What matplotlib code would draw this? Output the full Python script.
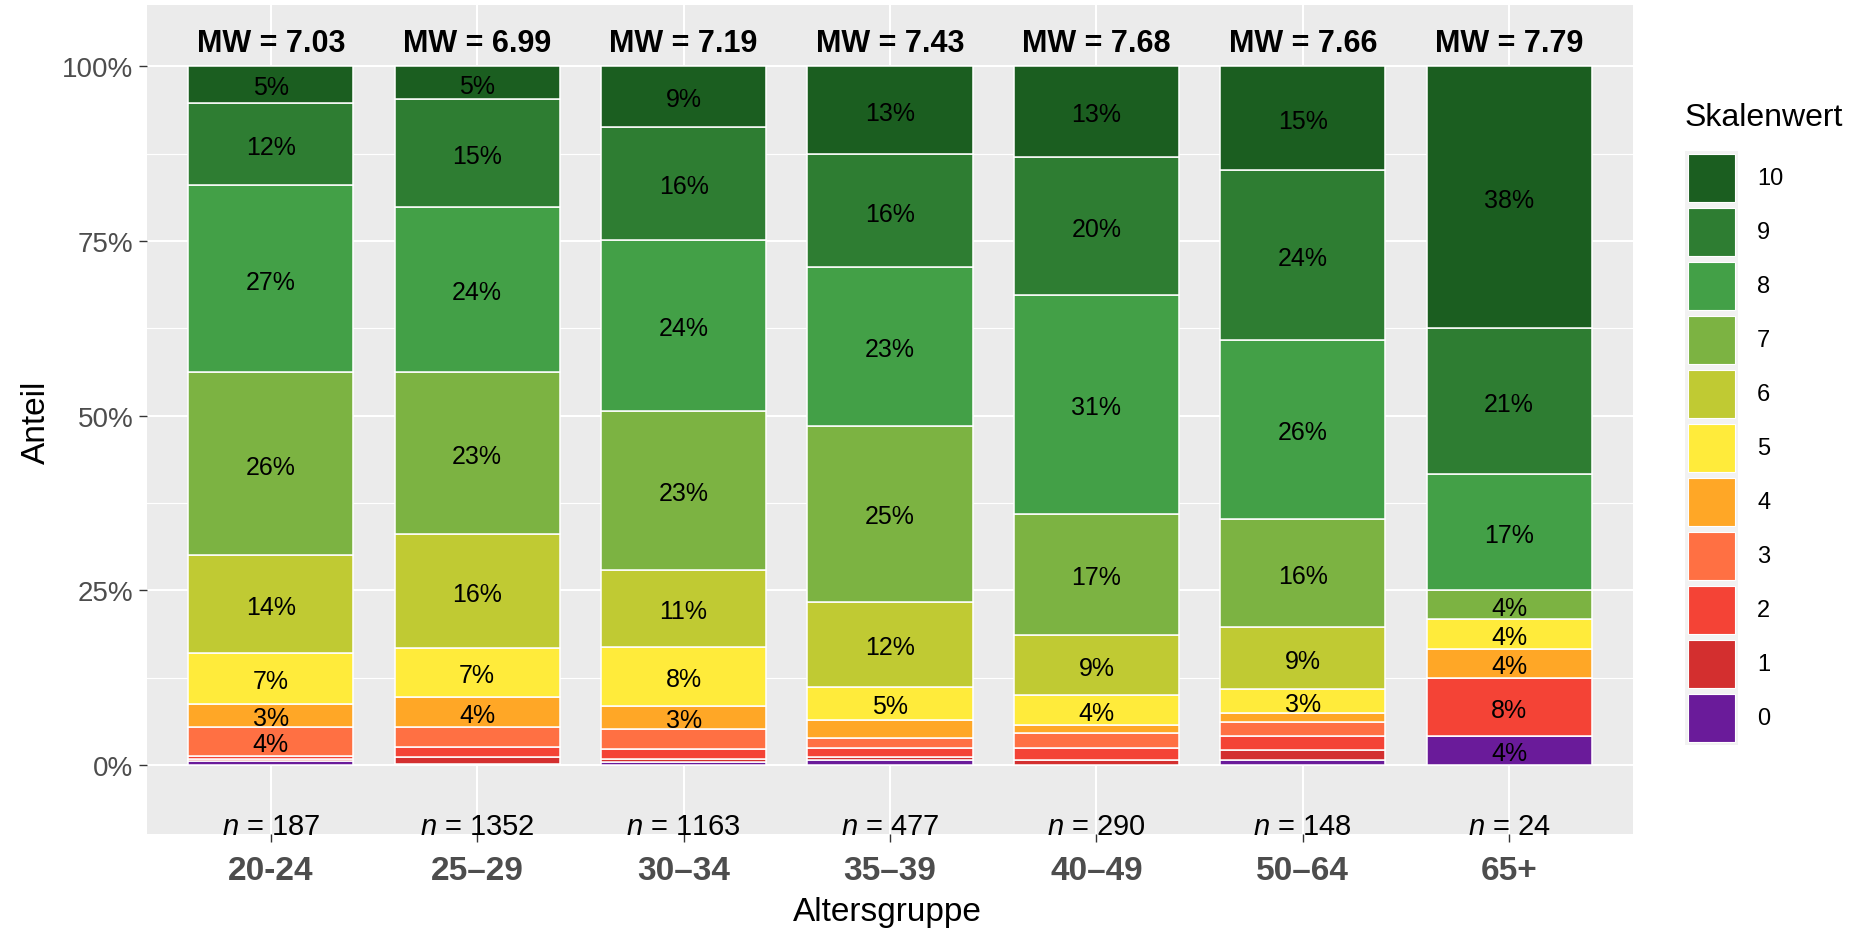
"""Stacked percentage bars of scale values per age group (ggplot-like look)."""

import matplotlib

matplotlib.use("Agg")
import matplotlib.pyplot as plt
from matplotlib.patches import Rectangle
from matplotlib.ticker import FixedLocator

plt.rcParams["font.family"] = ["Liberation Sans", "DejaVu Sans"]
plt.rcParams["mathtext.fontset"] = "custom"
plt.rcParams["mathtext.it"] = "Liberation Sans:italic"
plt.rcParams["mathtext.rm"] = "Liberation Sans"

GROUPS = ["20-24", "25–29", "30–34", "35–39", "40–49", "50–64", "65+"]
N_PER_GROUP = [187, 1352, 1163, 477, 290, 148, 24]
MEANS = [7.03, 6.99, 7.19, 7.43, 7.68, 7.66, 7.79]

SCALE_VALUES = [0, 1, 2, 3, 4, 5, 6, 7, 8, 9, 10]

# percent share of each scale value, one entry per age group
PCT_0 = [0.5, 0.1, 0.4, 0.7, 0.0, 0.7, 4.17]
PCT_1 = [0.3, 1.0, 0.4, 0.5, 0.7, 1.4, 0.0]
PCT_2 = [0.5, 1.5, 1.5, 1.2, 1.7, 2.0, 8.33]
PCT_3 = [4.2, 2.9, 2.9, 1.5, 2.2, 2.0, 0.0]
PCT_4 = [3.2, 4.2, 3.3, 2.5, 1.1, 1.4, 4.17]
PCT_5 = [7.4, 7.1, 8.4, 4.8, 4.3, 3.4, 4.17]
PCT_6 = [13.9, 16.3, 11.0, 12.2, 8.6, 8.8, 0.0]
PCT_7 = [26.2, 23.1, 22.8, 25.2, 17.3, 15.5, 4.17]
PCT_8 = [26.8, 23.7, 24.4, 22.7, 31.4, 25.7, 16.67]
PCT_9 = [11.8, 15.4, 16.3, 16.1, 19.8, 24.3, 20.83]
PCT_10 = [5.2, 4.7, 8.6, 12.6, 12.9, 14.8, 37.5]

SHARES = [PCT_0, PCT_1, PCT_2, PCT_3, PCT_4, PCT_5, PCT_6, PCT_7, PCT_8, PCT_9, PCT_10]

COLORS = [
    "#6a1b9a", "#d32f2f", "#f44336", "#ff7043", "#ffa726", "#ffeb3b",
    "#c0ca33", "#7cb342", "#43a047", "#2e7d32", "#1b5e20",
]

W, H = 1854, 929


def px(x, y):
    """Pixel position (from top-left) to figure fraction."""
    return x / W, 1 - y / H


def main():
    fig = plt.figure(figsize=(W / 100, H / 100), dpi=100)
    left, top = px(147, 6)
    right, bottom = px(1633, 835)
    ax = fig.add_axes([left, bottom, right - left, top - bottom])
    ax.set_facecolor("#EBEBEB")
    for spine in ax.spines.values():
        spine.set_visible(False)

    xs = list(range(1, len(GROUPS) + 1))
    base = [0.0] * len(GROUPS)
    for value, shares, color in zip(SCALE_VALUES, SHARES, COLORS):
        ax.bar(xs, shares, bottom=base, width=0.8, color=color,
               edgecolor="white", linewidth=1.1, zorder=3)
        for x, b, s in zip(xs, base, shares):
            if s >= 3:
                ax.text(x, b + s / 2 - 0.4, f"{s:.0f}%", ha="center", va="center",
                        fontsize=18, color="black", zorder=4)
        base = [b + s for b, s in zip(base, shares)]

    for x, mean, n in zip(xs, MEANS, N_PER_GROUP):
        ax.text(x, 103.4, f"MW = {mean:.2f}", ha="center", va="center",
                fontsize=22, fontweight="bold", color="black", zorder=4)
        ax.text(x, -8.7, f"$n$ = {n}", ha="center", va="center",
                fontsize=21, color="black", zorder=4)

    ax.set_xlim(0.4, 7.6)
    ax.set_ylim(-9.88, 108.8)
    ax.set_xticks(xs)
    ax.set_xticklabels(GROUPS, fontsize=24, fontweight="bold", color="#4d4d4d")
    ax.set_yticks([0, 25, 50, 75, 100])
    ax.set_yticklabels(["0%", "25%", "50%", "75%", "100%"], fontsize=20, color="#4d4d4d")
    ax.yaxis.set_minor_locator(FixedLocator([12.5, 37.5, 62.5, 87.5]))
    ax.tick_params(axis="both", which="major", length=6, width=1, color="#333333")
    ax.tick_params(axis="x", pad=9)
    ax.tick_params(axis="y", pad=4)
    ax.tick_params(which="minor", length=0)
    ax.grid(which="major", color="white", linewidth=1.5, zorder=0)
    ax.grid(which="minor", axis="y", color="white", linewidth=0.8, zorder=0)
    ax.set_axisbelow(True)

    fig.text(*px(36, 422), "Anteil", rotation=90, ha="center", va="center", fontsize=24)
    fig.text(*px(887, 913), "Altersgruppe", ha="center", va="center", fontsize=24)

    # legend drawn by hand, top entry is 10
    fig.text(*px(1685, 118), "Skalenwert", ha="left", va="center", fontsize=23)
    for k, (value, color) in enumerate(zip(SCALE_VALUES[::-1], COLORS[::-1])):
        y_top = 155 + 54 * k
        bx, by = px(1685, y_top + 51)
        fig.patches.append(Rectangle((bx, by), 53 / W, 54 / H, transform=fig.transFigure,
                                     facecolor="#F2F2F2", edgecolor="none"))
        kx, ky = px(1688, y_top + 48)
        fig.patches.append(Rectangle((kx, ky), 47 / W, 48 / H, transform=fig.transFigure,
                                     facecolor=color, edgecolor="white", linewidth=0.8))
        fig.text(*px(1757, y_top + 24), str(value), ha="left", va="center", fontsize=17)

    fig.savefig("out.png", dpi=100)
    plt.close(fig)


if __name__ == "__main__":
    main()
